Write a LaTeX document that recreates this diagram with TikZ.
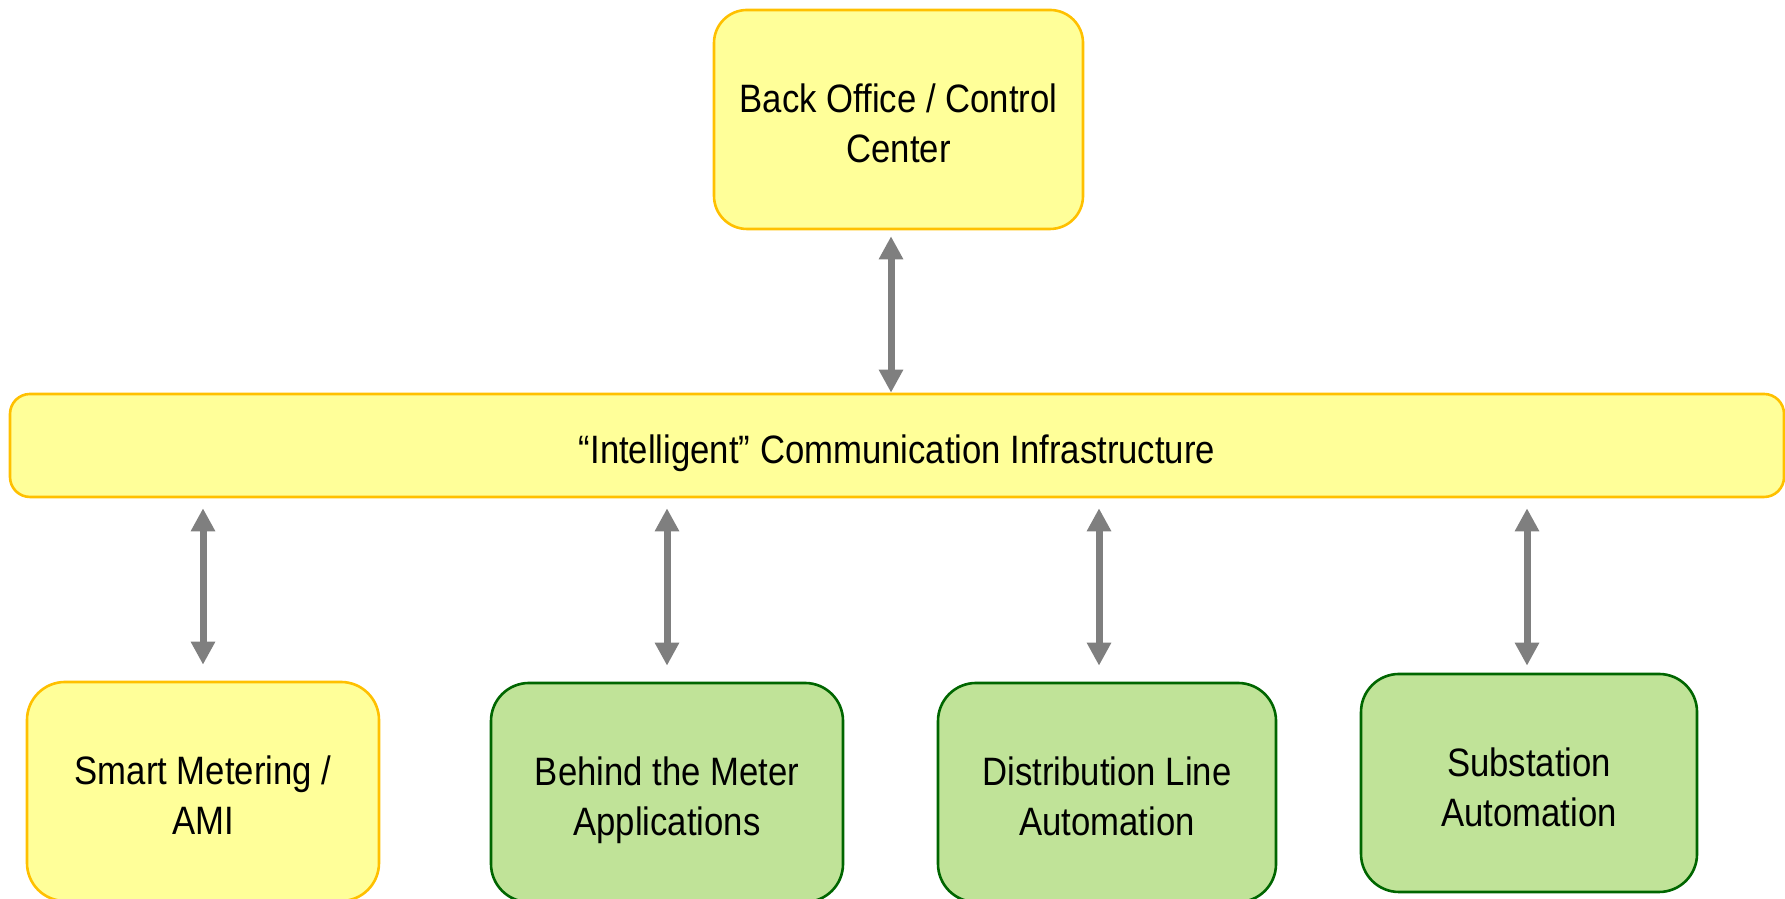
\documentclass[tikz,border=0pt]{standalone}
\usepackage{fontspec}
\setmainfont{Liberation Sans}[FakeStretch=0.876]
\usepackage{tikz}
\usetikzlibrary{arrows.meta}
\definecolor{boxyellow}{HTML}{FFFF99}
\definecolor{edgeyellow}{HTML}{FFC000}
\definecolor{boxgreen}{HTML}{C0E398}
\definecolor{edgegreen}{HTML}{006600}
\definecolor{linkgray}{HTML}{7F7F7F}

\begin{document}
\begin{tikzpicture}[
  every node/.style={font=\fontsize{11.27}{14.3}\selectfont, align=center, inner sep=0pt, text height=24.7pt, text depth=0pt},
  yellowbox/.style={draw=edgeyellow, fill=boxyellow, line width=0.026cm},
  greenbox/.style={draw=edgegreen, fill=boxgreen, line width=0.026cm, rounded corners=0.38cm},
  link/.style={draw=linkgray, line width=0.07cm, >={Triangle[width=0.23cm,length=0.23cm]}, <->}
]
\useasboundingbox (0,0) rectangle (17.85,8.99);
% Control center and the bus
\node[yellowbox, rounded corners=0.33cm, minimum width=3.69cm, minimum height=2.19cm] (ctl) at (8.985,7.795) {Back Office / Control\\Center};
\node[yellowbox, rounded corners=0.2cm, minimum width=17.74cm, minimum height=1.03cm, text height=10.2pt] (bus) at (8.97,4.535) {``Intelligent'' Communication Infrastructure};
% Field applications
\node[yellowbox, rounded corners=0.38cm, minimum width=3.52cm, minimum height=2.19cm] (ami) at (2.03,1.075) {Smart Metering /\\AMI};
\node[greenbox, minimum width=3.52cm, minimum height=2.19cm] (btm) at (6.67,1.065) {Behind the Meter\\Applications};
\node[greenbox, minimum width=3.38cm, minimum height=2.19cm] (dla) at (11.07,1.065) {Distribution Line\\Automation};
\node[greenbox, minimum width=3.36cm, minimum height=2.18cm] (sub) at (15.29,1.16) {Substation\\Automation};
% Links
\coordinate (ctlfoot) at ([xshift=-0.075cm]ctl.south);
\draw[link, shorten <=0.06cm] (ctlfoot) -- (ctlfoot |- bus.north);
\draw[link, shorten <=0.1cm, shorten >=0.16cm] (bus.south -| ami.north) -- (ami.north);
\draw[link, shorten <=0.1cm, shorten >=0.16cm] (bus.south -| btm.north) -- (btm.north);
\coordinate (dlatop) at ([xshift=-0.08cm]dla.north);
\draw[link, shorten <=0.1cm, shorten >=0.16cm] (bus.south -| dlatop) -- (dlatop);
\coordinate (subtop) at ([xshift=-0.02cm]sub.north);
\draw[link, shorten <=0.1cm, shorten >=0.07cm] (bus.south -| subtop) -- (subtop);
\end{tikzpicture}
\end{document}
